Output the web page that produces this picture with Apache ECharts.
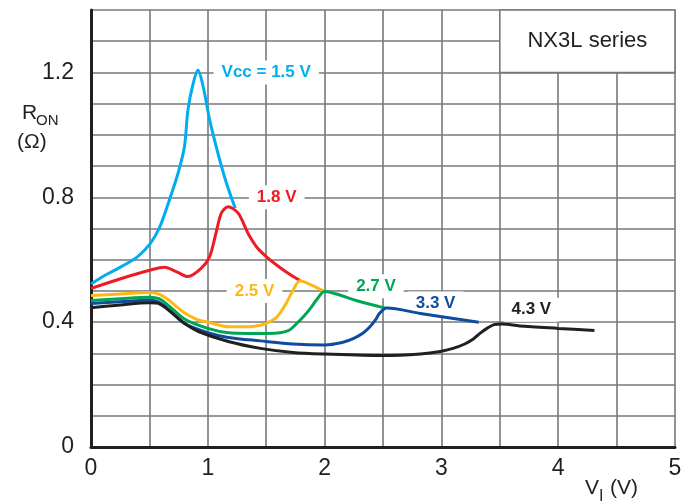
<!DOCTYPE html>
<html>
<head>
<meta charset="utf-8">
<script src="https://cdn.jsdelivr.net/npm/echarts@6/dist/echarts.min.js"></script>
<style>
html,body{margin:0;padding:0;background:#fff;}
#chart{width:691px;height:504px;}
</style>
</head>
<body>
<div id="chart"></div>
<script>
// ---- data ----
var xTickLabels = ['0', '1', '2', '3', '4', '5'];
var yTickLabels = ['0', '0.4', '0.8', '1.2'];

var seriesNames = ['Vcc = 1.5 V', '1.8 V', '2.5 V', '2.7 V', '3.3 V', '4.3 V'];

var vcc15 = [[0,0.522],[0.12,0.55],[0.26,0.578],[0.40,0.61],[0.51,0.653],[0.59,0.706],[0.67,0.79],[0.745,0.877],[0.80,0.962],[0.83,1.08],[0.875,1.165],[0.916,1.208],[0.96,1.155],[1.016,1.048],[1.087,0.941],[1.16,0.845],[1.235,0.765]];
var vcc18 = [[0,0.508],[0.26,0.54],[0.51,0.567],[0.63,0.576],[0.73,0.562],[0.83,0.546],[0.945,0.573],[1.016,0.61],[1.07,0.685],[1.116,0.749],[1.173,0.77],[1.26,0.749],[1.344,0.685],[1.42,0.64],[1.50,0.61],[1.60,0.58],[1.675,0.56],[1.79,0.533]];
var vcc25 = [[0,0.485],[0.25,0.49],[0.5,0.495],[0.58,0.49],[0.65,0.475],[0.8,0.43],[0.9,0.41],[1.0,0.40],[1.18,0.385],[1.33,0.385],[1.45,0.39],[1.5,0.396],[1.57,0.41],[1.62,0.43],[1.67,0.46],[1.72,0.495],[1.79,0.533],[1.88,0.52],[1.99,0.50]];
var vcc27 = [[0,0.469],[0.25,0.475],[0.5,0.48],[0.6,0.472],[0.8,0.41],[1.0,0.38],[1.175,0.366],[1.35,0.364],[1.50,0.364],[1.62,0.366],[1.70,0.375],[1.76,0.395],[1.82,0.418],[1.88,0.445],[1.93,0.471],[2.0,0.498],[2.1,0.49],[2.30,0.466],[2.52,0.445]];
var vcc33 = [[0,0.46],[0.25,0.465],[0.5,0.47],[0.6,0.46],[0.8,0.396],[1.0,0.366],[1.175,0.351],[1.45,0.340],[1.73,0.33],[2.0,0.327],[2.15,0.335],[2.25,0.348],[2.33,0.365],[2.39,0.386],[2.44,0.41],[2.47,0.428],[2.53,0.445],[2.82,0.428],[2.99,0.418],[3.32,0.40]];
var vcc43 = [[0,0.446],[0.25,0.455],[0.5,0.462],[0.59,0.458],[0.8,0.396],[0.92,0.37],[1.175,0.338],[1.45,0.316],[1.73,0.303],[2.0,0.298],[2.5,0.293],[2.82,0.298],[2.99,0.306],[3.10,0.316],[3.2,0.33],[3.27,0.345],[3.33,0.364],[3.39,0.38],[3.45,0.392],[3.52,0.394],[3.67,0.388],[4.0,0.38],[4.31,0.373]];

// curve label anchor positions (data coords)
var labelPos = [[1.50,1.20],[1.59,0.80],[1.40,0.50],[2.44,0.515],[2.95,0.46],[3.77,0.44]];
var noteBox = [[3.5,1.2],[5,1.4]];
var noteText = 'NX3L series';

var colors = ['#00aeef', '#ed1c24', '#fdb913', '#00a651', '#0f4c9f', '#231f20'];
var curves = [vcc15, vcc18, vcc25, vcc27, vcc33, vcc43];

var chart = echarts.init(document.getElementById('chart'));
var gridColor = '#77787b';
var fam = 'Liberation Sans, Arial, sans-serif';
var series = curves.map(function (d, i) {
  return {
    name: seriesNames[i],
    type: 'line',
    data: d,
    smooth: 0.3,
    showSymbol: false,
    symbol: 'none',
    lineStyle: { color: colors[i], width: 3 },
    itemStyle: { color: colors[i] },
    z: 3 + i,
    markPoint: {
      symbol: 'rect',
      symbolSize: 0,
      data: [{ coord: labelPos[i] }],
      label: {
        show: true,
        position: 'inside',
        formatter: seriesNames[i],
        color: colors[i],
        fontWeight: 'bold',
        fontSize: 17,
        fontFamily: fam,
        backgroundColor: '#fff',
        padding: [4, 8, 3, 8]
      }
    }
  };
});
series[0].markArea = {
  silent: true,
  itemStyle: { color: '#fff', borderColor: gridColor, borderWidth: 1.6 },
  label: { show: true, position: 'inside', color: '#231f20', fontSize: 22, fontFamily: fam },
  data: [[{ coord: noteBox[0], name: noteText }, { coord: noteBox[1] }]]
};

var tickFont = { color: '#231f20', fontSize: 23, fontFamily: fam };

chart.setOption({
  backgroundColor: '#fff',
  animation: false,
  grid: { left: 91, right: 16, top: 10, bottom: 57, containLabel: false },
  xAxis: {
    type: 'value', min: 0, max: 5, interval: 0.5,
    axisLine: { show: true, lineStyle: { color: '#231f20', width: 3 } },
    axisTick: { show: false },
    splitLine: { show: true, lineStyle: { color: gridColor, width: 1.6 } },
    axisLabel: Object.assign({
      margin: 10,
      formatter: function (v) {
        var t = String(Math.round(v * 100) / 100);
        return xTickLabels.indexOf(t) >= 0 ? t : '';
      }
    }, tickFont)
  },
  yAxis: {
    type: 'value', min: 0, max: 1.4, interval: 0.1,
    axisLine: { show: true, lineStyle: { color: '#231f20', width: 3 } },
    axisTick: { show: false },
    splitLine: { show: true, lineStyle: { color: gridColor, width: 1.6 } },
    axisLabel: Object.assign({
      margin: 17,
      formatter: function (v) {
        var r = Math.round(v * 10) / 10;
        var t = r === 0 ? '0' : r.toFixed(1);
        return yTickLabels.indexOf(t) >= 0 ? t : '';
      }
    }, tickFont)
  },
  graphic: [
    { type: 'text', left: 22, top: 103, style: { text: 'R', fontSize: 21, fill: '#231f20', fontFamily: fam } },
    { type: 'text', left: 36, top: 113, style: { text: 'ON', fontSize: 15, fill: '#231f20', fontFamily: fam } },
    { type: 'text', left: 17, top: 132, style: { text: '(Ω)', fontSize: 21, fill: '#231f20', fontFamily: fam } },
    { type: 'text', left: 585, top: 478, style: { text: 'V', fontSize: 21, fill: '#231f20', fontFamily: fam } },
    { type: 'text', left: 599, top: 489, style: { text: 'I', fontSize: 16, fill: '#231f20', fontFamily: fam } },
    { type: 'text', left: 610, top: 478, style: { text: '(V)', fontSize: 21, fill: '#231f20', fontFamily: fam } }
  ],
  series: series
});
</script>
</body>
</html>
